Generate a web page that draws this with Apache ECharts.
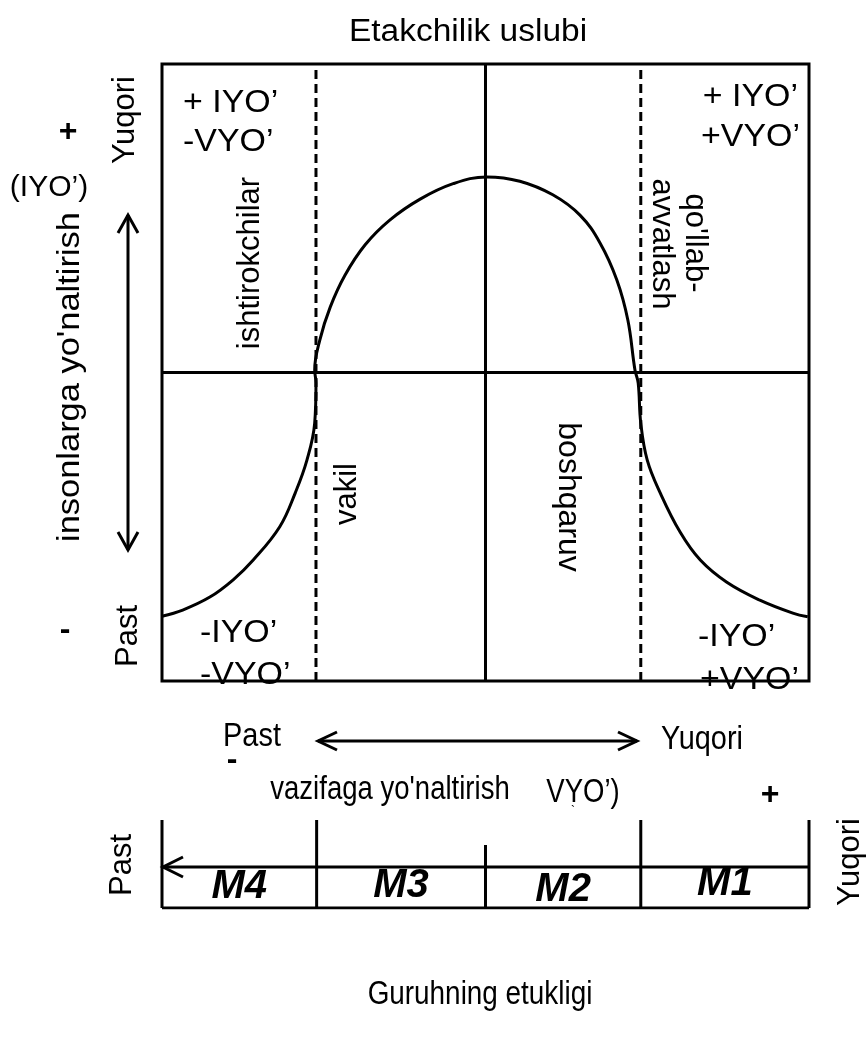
<!DOCTYPE html>
<html>
<head>
    <meta charset="UTF-8" />
    <title>Etakchilik uslubi</title>
    <script src="https://cdn.jsdelivr.net/npm/echarts@6/dist/echarts.min.js"></script>
    <style>
        body { margin: 0; background: #fff; }
        #chart { width: 868px; height: 1039px; }
    </style>
</head>
<body>
    <div id="chart"></div>
    <script type="text/javascript">
        // leadership style curve (x: task orientation 0..100, y: people orientation 0..100)
        var curveX = [0, 3.2, 7.4, 11.0, 14.1, 18.2, 20.6, 22.4, 23.6, 23.8, 23.6, 24.4, 26.0, 28.3, 31.4, 35.2, 39.9, 45.0,
            50.2, 55.3, 60.4, 64.6, 67.7, 70.3, 72.0, 73.1, 73.6, 74.0, 75.0, 77.0, 80.1, 83.2, 87.3, 92.4, 97.5, 99.8];
        var curveY = [10.5, 11.5, 13.6, 16.4, 19.6, 25.0, 30.5, 35.8, 41.8, 48.3, 50.4, 55.3, 60.6, 65.8, 70.7, 74.7, 78.1, 80.6,
            81.7, 81.0, 78.8, 75.5, 71.0, 65.0, 58.5, 50.4, 48.3, 41.8, 35.8, 30.5, 24.1, 19.6, 16.0, 13.1, 11.0, 10.4];
        var midX = 50, midY = 50;
        var zoneBounds = [23.8, 74];              // dashed style boundaries
        var tableBounds = [0, 23.9, 50, 74, 100]; // maturity table columns
        var tableTops = [100, 100, 71.6, 100, 100];
        var maturity = ['M4', 'M3', 'M2', 'M1'];
        var maturityY = [24, 25, 20.5, 27.3];

        var FONT = "'Liberation Sans', Arial, sans-serif";

        var chart = echarts.init(document.getElementById('chart'), null, { renderer: 'canvas' });

        function txt(str, x, y, size, opt) {
            opt = opt || {};
            return {
                type: 'text', x: x, y: y, rotation: opt.rot || 0, scaleX: opt.sx || 1, silent: true,
                style: {
                    text: str, fill: '#000',
                    font: (opt.weight || 'normal') + ' ' + size + 'px ' + FONT,
                    align: opt.align || 'center', verticalAlign: 'middle'
                }
            };
        }
        function poly(points) {
            return { type: 'polyline', silent: true, shape: { points: points }, style: { stroke: '#000', lineWidth: 3, fill: null } };
        }

        var series = [];
        // quadrant lines
        series.push({ type: 'line', xAxisIndex: 0, yAxisIndex: 0, symbol: 'none', lineStyle: { color: '#000', width: 3 },
            data: [[0, midY], [100, midY]] });
        series.push({ type: 'line', xAxisIndex: 0, yAxisIndex: 0, symbol: 'none', lineStyle: { color: '#000', width: 3 },
            data: [[midX, 0], [midX, 100]] });
        zoneBounds.forEach(function (b) {
            series.push({ type: 'line', xAxisIndex: 0, yAxisIndex: 0, symbol: 'none',
                lineStyle: { color: '#000', width: 3, type: [9, 5] }, data: [[b, 0], [b, 100]] });
        });
        // curve
        series.push({ type: 'line', xAxisIndex: 0, yAxisIndex: 0, symbol: 'none', smooth: 0.4,
            lineStyle: { color: '#000', width: 3 },
            data: curveX.map(function (x, i) { return [x, curveY[i]]; }) });
        // maturity table
        tableBounds.forEach(function (b, i) {
            series.push({ type: 'line', xAxisIndex: 1, yAxisIndex: 1, symbol: 'none', lineStyle: { color: '#000', width: 3 },
                data: [[b, 0], [b, tableTops[i]]] });
        });
        series.push({ type: 'line', xAxisIndex: 1, yAxisIndex: 1, symbol: 'none', lineStyle: { color: '#000', width: 3 },
            data: [[0, 0], [100, 0]] });
        series.push({ type: 'scatter', xAxisIndex: 1, yAxisIndex: 1, symbolSize: 0, itemStyle: { opacity: 1 },
            label: { show: true, position: 'inside', formatter: '{b}', color: '#000', opacity: 1,
                fontFamily: FONT, fontWeight: 'bold', fontStyle: 'italic', fontSize: 40 },
            data: maturity.map(function (m, i) {
                return { name: m, value: [(tableBounds[i] + tableBounds[i + 1]) / 2, maturityY[i]] };
            }) });

        var UP = Math.PI / 2, DOWN = -Math.PI / 2;
        var graphics = [
            txt('Etakchilik uslubi', 468, 32, 31, { sx: 1.08 }),
            txt('+', 68, 132, 32, { weight: 'bold' }),
            txt('(IYO’)', 49, 188, 30),
            txt('Yuqori', 125, 120, 31, { rot: UP }),
            txt("insonlarga yo'naltirish", 70, 377, 31, { rot: UP, sx: 1.11 }),
            txt('-', 65, 630, 32, { weight: 'bold' }),
            txt('Past', 128, 636, 31, { rot: UP }),
            txt('+ IYO’', 183, 103, 32, { align: 'left', sx: 1.06 }),
            txt('-VYO’', 183, 142, 32, { align: 'left', sx: 1.06 }),
            txt('ishtirokchilar', 250, 263, 31, { rot: UP }),
            txt('+ IYO’', 798, 97, 32, { align: 'right', sx: 1.06 }),
            txt('+VYO’', 800, 137, 32, { align: 'right', sx: 1.06 }),
            txt("qo'llab-", 695, 243, 31, { rot: DOWN }),
            txt('avvatlash', 662, 244, 31, { rot: DOWN }),
            txt('vakil', 347, 494, 31, { rot: UP }),
            txt('boshqaruv', 568, 497, 32, { rot: DOWN }),
            txt('-IYO’', 200, 633, 32, { align: 'left', sx: 1.06 }),
            txt('-VYO’', 200, 675, 32, { align: 'left', sx: 1.06 }),
            txt('-IYO’', 698, 637, 32, { align: 'left', sx: 1.06 }),
            txt('+VYO’', 700, 680, 32, { align: 'left', sx: 1.06 }),
            txt('Past', 252, 737, 34, { sx: 0.85 }),
            txt('Yuqori', 702, 740, 34, { sx: 0.85 }),
            txt('-', 232, 760, 32, { weight: 'bold' }),
            txt("vazifaga yo'naltirish", 390, 790, 34, { sx: 0.81 }),
            txt('VYO’)', 583, 793, 34, { sx: 0.81 }),
            txt('`', 573, 812, 12),
            txt('+', 770, 795, 32, { weight: 'bold' }),
            txt('Past', 122, 865, 31, { rot: UP }),
            txt('Yuqori', 850, 862, 31, { rot: UP }),
            txt('Guruhning etukligi', 480, 995, 34, { sx: 0.82 }),
            // people orientation double arrow
            poly([[128, 215], [128, 550]]),
            poly([[118, 233], [128, 215], [138, 233]]),
            poly([[118, 532], [128, 550], [138, 532]]),
            // task orientation double arrow
            poly([[318, 741], [637, 741]]),
            poly([[337, 732], [318, 741], [337, 750]]),
            poly([[618, 732], [637, 741], [618, 750]]),
            // maturity arrow
            poly([[163, 867], [809, 867]]),
            poly([[183, 857], [163, 867], [183, 877]])
        ];

        var option = {
            backgroundColor: '#fff',
            animation: false,
            grid: [
                { left: 162, top: 64, width: 647, height: 617, show: true, borderColor: '#000', borderWidth: 3, backgroundColor: 'transparent' },
                { left: 162, top: 820, width: 647, height: 88 }
            ],
            xAxis: [
                { type: 'value', gridIndex: 0, min: 0, max: 100, show: false },
                { type: 'value', gridIndex: 1, min: 0, max: 100, show: false }
            ],
            yAxis: [
                { type: 'value', gridIndex: 0, min: 0, max: 100, show: false },
                { type: 'value', gridIndex: 1, min: 0, max: 100, show: false }
            ],
            series: series,
            graphic: graphics
        };
        chart.setOption(option);
    </script>
</body>
</html>
